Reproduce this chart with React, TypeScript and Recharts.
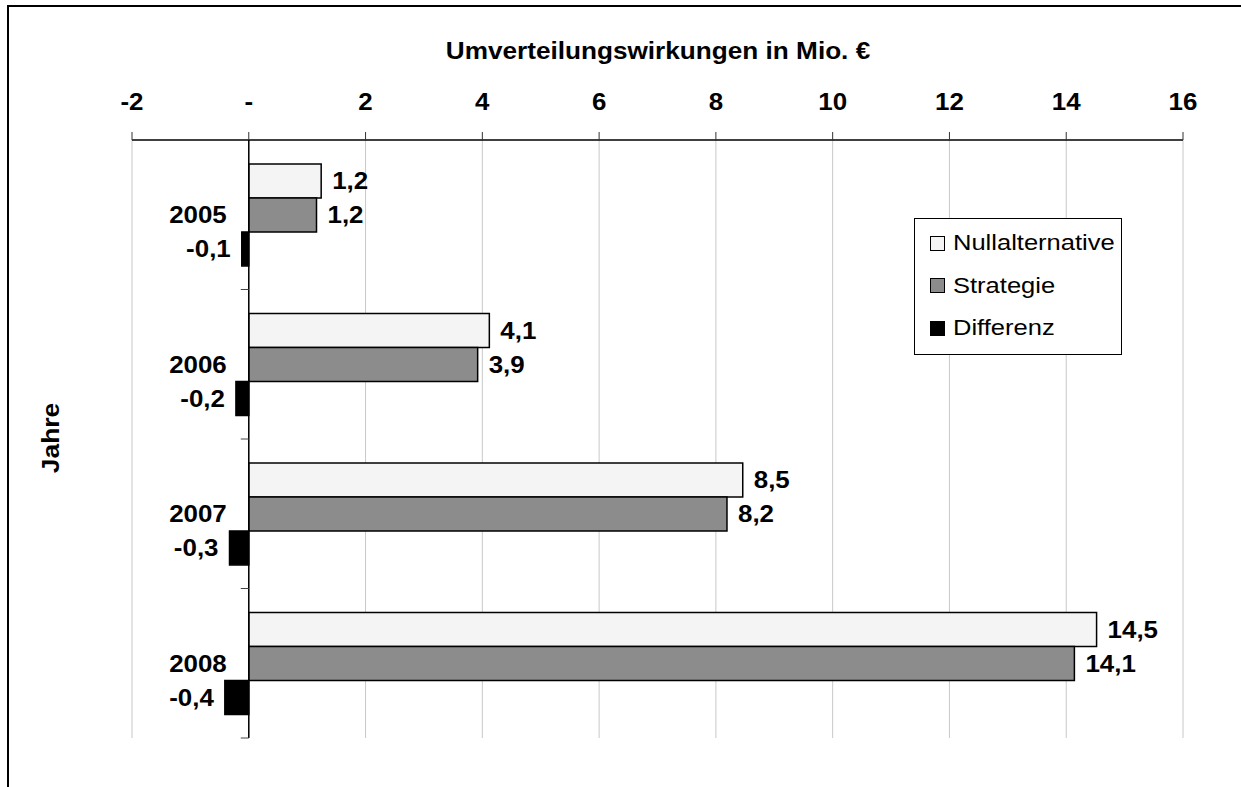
import React from 'react';
import { BarChart, Bar, XAxis, YAxis, CartesianGrid, ReferenceLine, LabelList } from 'recharts';

const years = ['2005', '2006', '2007', '2008'];
const nullalternative = [1.24, 4.12, 8.46, 14.52];
const strategie = [1.16, 3.92, 8.19, 14.14];
const differenz = [-0.12, -0.22, -0.33, -0.41];
const xTicks = [-2, 0, 2, 4, 6, 8, 10, 12, 14, 16];

const series = [
  { key: 'nullalternative', name: 'Nullalternative', fill: '#f4f4f4', stroke: '#000' },
  { key: 'strategie', name: 'Strategie', fill: '#8c8c8c', stroke: '#000' },
  { key: 'differenz', name: 'Differenz', fill: '#000', stroke: '#000' },
];

const data = years.map((year, i) => ({
  year,
  nullalternative: nullalternative[i],
  strategie: strategie[i],
  differenz: differenz[i],
}));

const W = 1241;
const H = 787;
const X_AXIS_H = 40;
const Y_AXIS_W = 20;
const MARGIN = { top: 140 - X_AXIS_H, left: 132 - Y_AXIS_W, right: 58, bottom: 49 };
const PLOT_LEFT = 132;
const PLOT_W = W - PLOT_LEFT - MARGIN.right;
const PLOT_H = H - 140 - MARGIN.bottom;
const ZERO_X = PLOT_LEFT + (PLOT_W * 2) / 18;
const BAND = PLOT_H / years.length;
const FONT = "'Liberation Sans', Arial, sans-serif";
const STRETCH = 1.08;
const BOLD_SIZE = 24;

const fmt = (v: number) => v.toFixed(1).replace('.', ',');

// bold text drawn a little wider than Arial, like the original export
const WideText = ({ x, y, anchor, children, size = BOLD_SIZE }: any) => (
  <text
    x={x}
    y={y}
    textAnchor={anchor}
    fontSize={size}
    fontWeight="bold"
    fontFamily={FONT}
    fill="#000"
    transform={`translate(${x} ${y}) scale(${STRETCH} 1) translate(${-x} ${-y})`}
  >
    {children}
  </text>
);

const XTick = ({ x, payload }: any) => (
  <WideText x={x} y={110} anchor="middle">
    {payload.value === 0 ? '-' : payload.value}
  </WideText>
);

const YTick = ({ y, payload }: any) => (
  <g>
    <WideText x={ZERO_X - 22} y={y + 8.5} anchor="end">
      {payload.value}
    </WideText>
    <line x1={ZERO_X - 8} x2={ZERO_X} y1={y + BAND / 2} y2={y + BAND / 2} stroke="#444" strokeWidth={1} />
  </g>
);

const renderLabel = (props: any) => {
  const { x, y, width, height, value } = props;
  const neg = width < 0;
  const tx = neg ? x + width - 11 : x + width + 11;
  return (
    <WideText x={tx} y={y + height / 2 + 8.5} anchor={neg ? 'end' : 'start'}>
      {fmt(value)}
    </WideText>
  );
};

const App = () => {
  return (
    <div style={{ position: 'absolute', left: 0, top: 0, width: W, height: H, background: '#fff', overflow: 'hidden' }}>
      <div
        style={{
          position: 'absolute',
          left: 7,
          top: 5,
          width: W - 7,
          height: H - 5,
          borderTop: '2px solid #000',
          borderLeft: '2px solid #000',
          boxSizing: 'border-box',
        }}
      />
      <div
        style={{
          position: 'absolute',
          left: 0,
          top: 39,
          width: 1316,
          textAlign: 'center',
          fontFamily: FONT,
          fontWeight: 'bold',
          fontSize: 24,
          lineHeight: '24px',
          transform: 'scaleX(1.09)',
          whiteSpace: 'nowrap',
        }}
      >
        Umverteilungswirkungen in Mio. €
      </div>
      <div
        style={{
          position: 'absolute',
          left: 1,
          top: 423,
          width: 100,
          height: 30,
          lineHeight: '30px',
          textAlign: 'center',
          fontFamily: FONT,
          fontWeight: 'bold',
          fontSize: 24,
          transform: 'rotate(-90deg) scaleX(1.1)',
        }}
      >
        Jahre
      </div>
      <BarChart
        width={W}
        height={H}
        data={data}
        layout="vertical"
        margin={MARGIN}
        barCategoryGap="16%"
        barGap={0}
        style={{ position: 'absolute', left: 0, top: 0 }}
      >
        <CartesianGrid horizontal={false} stroke="#c8c8c8" strokeWidth={1} />
        <XAxis
          type="number"
          orientation="top"
          domain={[-2, 16]}
          ticks={xTicks}
          interval={0}
          height={X_AXIS_H}
          tickSize={8}
          stroke="#000"
          axisLine={{ stroke: '#000', strokeWidth: 1.5 }}
          tickLine={{ stroke: '#333' }}
          tick={<XTick />}
        />
        <YAxis
          type="category"
          dataKey="year"
          width={Y_AXIS_W}
          interval={0}
          axisLine={false}
          tickLine={false}
          tick={<YTick />}
        />
        {series.map((s) => (
          <Bar
            key={s.key}
            dataKey={s.key}
            name={s.name}
            fill={s.fill}
            stroke={s.stroke}
            strokeWidth={1.5}
            isAnimationActive={false}
          >
            <LabelList dataKey={s.key} content={renderLabel} />
          </Bar>
        ))}
        <ReferenceLine x={0} stroke="#000" strokeWidth={1.5} />
      </BarChart>
      <div
        style={{
          position: 'absolute',
          left: 914,
          top: 218,
          width: 208,
          height: 137,
          border: '1px solid #000',
          boxSizing: 'border-box',
          background: '#fff',
        }}
      >
        {series.map((s, i) => (
          <div
            key={s.key}
            style={{ position: 'absolute', left: 15, top: 10 + i * 42.5, height: 28, display: 'flex', alignItems: 'center' }}
          >
            <span
              style={{
                display: 'inline-block',
                width: 13,
                height: 13,
                background: s.fill,
                border: '1px solid #000',
              }}
            />
            <span
              style={{
                display: 'inline-block',
                marginLeft: 8,
                fontFamily: FONT,
                fontSize: 22,
                transform: 'scaleX(1.16)',
                transformOrigin: 'left center',
                whiteSpace: 'nowrap',
              }}
            >
              {s.name}
            </span>
          </div>
        ))}
      </div>
    </div>
  );
};

export default App;
